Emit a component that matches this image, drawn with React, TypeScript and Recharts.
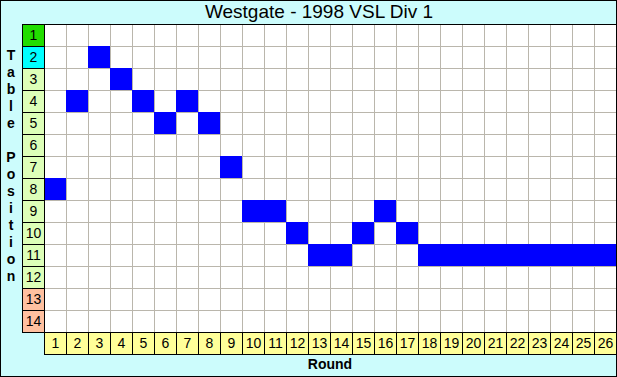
import { BarChart, Bar, XAxis, YAxis, CartesianGrid, Customized } from "recharts";

const TITLE = "Westgate - 1998 VSL Div 1";
const Y_LABEL = "Table Position";
const X_LABEL = "Round";
const ROUNDS = [1, 2, 3, 4, 5, 6, 7, 8, 9, 10, 11, 12, 13, 14, 15, 16, 17, 18, 19, 20, 21, 22, 23, 24, 25, 26];
const POSITIONS = [8, 4, 2, 3, 4, 5, 4, 5, 7, 9, 9, 10, 11, 11, 10, 9, 10, 11, 11, 11, 11, 11, 11, 11, 11, 11];
const TABLE_TICKS = [1, 2, 3, 4, 5, 6, 7, 8, 9, 10, 11, 12, 13, 14];

const data = ROUNDS.map((round, i) => ({
  round,
  span: [POSITIONS[i] - 0.5, POSITIONS[i] + 0.5],
}));

const CELL = 22;
const FONT = "'Liberation Sans', Arial, sans-serif";

const rowFill = (p: number) =>
  p === 1 ? "#22DD00" : p === 2 ? "#00FFFF" : p >= 13 ? "#FFC0A0" : "#DDFFB8";

function YTick({ x, y, payload }: any) {
  return (
    <g>
      <rect x={x - CELL + 0.5} y={y - CELL / 2 + 0.5} width={CELL} height={CELL} fill={rowFill(payload.value)} stroke="#000" />
      <text x={x - CELL / 2 + 0.5} y={y + 5} textAnchor="middle" fontSize={14} fontFamily={FONT} fill="#000">
        {payload.value}
      </text>
    </g>
  );
}

function XTick({ x, y, payload }: any) {
  return (
    <g>
      <rect x={x - CELL / 2 + 0.5} y={y + 0.5} width={CELL} height={CELL} fill="#FFFF99" stroke="#000" />
      <text x={x + 0.5} y={y + 16} textAnchor="middle" fontSize={14} fontFamily={FONT} fill="#000">
        {payload.value}
      </text>
    </g>
  );
}

function YLabel({ viewBox }: any) {
  const letters = Y_LABEL.split("");
  return (
    <g>
      <line x1={viewBox.x + CELL} x2={617} y1={viewBox.y + 0.5} y2={viewBox.y + 0.5} stroke="#000" />
      <text x={11} y={60} textAnchor="middle" fontSize={14} fontWeight="bold" fontFamily={FONT} fill="#000">
        {letters.map((c, i) => (
          <tspan key={i} x={11} dy={i === 0 ? 0 : 17}>
            {c === " " ? "\u00a0" : c}
          </tspan>
        ))}
      </text>
    </g>
  );
}

function XLabel({ viewBox }: any) {
  return (
    <text x={viewBox.x + viewBox.width / 2} y={viewBox.y + viewBox.height - 8} textAnchor="middle" fontSize={14} fontWeight="bold" fontFamily={FONT} fill="#000">
      {X_LABEL}
    </text>
  );
}

export default function App() {
  return (
    <div style={{ position: "fixed", left: 0, top: 0, width: 617, height: 377, background: "#CCFCFC" }}>
      <BarChart width={617} height={377} data={data} margin={{ top: 24, right: 1, bottom: 0, left: 0 }} barCategoryGap={0}>
        <CartesianGrid
          fill="#FFFFFF"
          stroke="#BAB6AC"
          verticalCoordinatesGenerator={({ offset }: any) =>
            ROUNDS.slice(1).map((_, i) => offset.left + ((i + 1) * offset.width) / ROUNDS.length + 0.5)
          }
          horizontalCoordinatesGenerator={({ offset }: any) =>
            TABLE_TICKS.slice(1).map((_, i) => offset.top + ((i + 1) * offset.height) / TABLE_TICKS.length + 0.5)
          }
        />
        <XAxis
          dataKey="round"
          height={45}
          interval={0}
          axisLine={false}
          tickLine={false}
          tickSize={0}
          tickMargin={0}
          tick={<XTick />}
          label={{ content: XLabel }}
        />
        <YAxis
          type="number"
          domain={[0.5, 14.5]}
          reversed
          ticks={TABLE_TICKS}
          interval={0}
          width={44}
          axisLine={false}
          tickLine={false}
          tickSize={0}
          tickMargin={0}
          tick={<YTick />}
          label={{ content: YLabel }}
        />
        <Bar dataKey="span" fill="#0000FF" isAnimationActive={false} />
        <Customized
          component={() => (
            <text x={319} y={18} textAnchor="middle" fontSize={19} fontFamily={FONT} fill="#000">
              {TITLE}
            </text>
          )}
        />
      </BarChart>
      <div style={{ position: "absolute", left: 0, top: 0, width: 617, height: 377, boxSizing: "border-box", border: "1px solid #000", pointerEvents: "none" }} />
    </div>
  );
}
